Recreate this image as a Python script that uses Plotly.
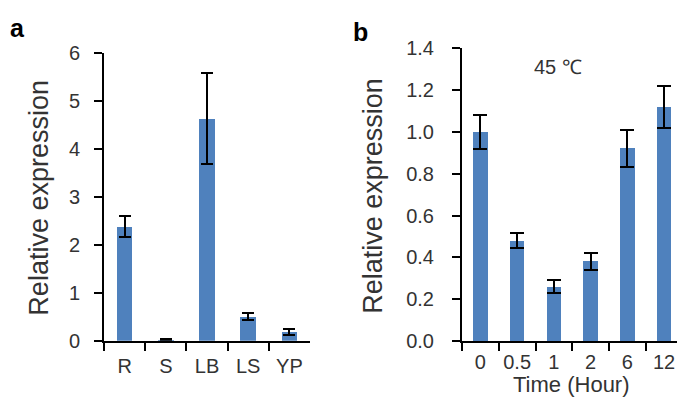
import plotly.graph_objects as go

# Panel a data
tissues = ["R", "S", "LB", "LS", "YP"]
tissue_expr = [2.38, 0.02, 4.63, 0.50, 0.19]
tissue_err = [0.22, 0.01, 0.94, 0.07, 0.06]

# Panel b data
time_labels = ["0", "0.5", "1", "2", "6", "12"]
time_expr = [1.00, 0.48, 0.26, 0.38, 0.92, 1.12]
time_err = [0.08, 0.035, 0.03, 0.04, 0.09, 0.10]

a_ticks = [0, 1, 2, 3, 4, 5, 6]
b_ticks = [0.0, 0.2, 0.4, 0.6, 0.8, 1.0, 1.2, 1.4]

BAR = "#4F81BD"
FONT = "Liberation Sans, Arial, sans-serif"
TXT = "#333333"

# The page body has an 8px margin, so the figure sits at (8, 8) in the window.
OFF = 8
W, H = 685 - OFF, 409 - OFF

def px_x(x):
    return (x - OFF) / W

def px_y(y):
    return 1 - (y - OFF) / H

fig = go.Figure()

fig.add_trace(go.Bar(
    x=tissues, y=tissue_expr, width=0.38,
    marker=dict(color=BAR, line=dict(width=0)),
    error_y=dict(type="data", array=tissue_err, visible=True,
                 color="black", thickness=2, width=6),
    xaxis="x", yaxis="y", showlegend=False,
))

fig.add_trace(go.Bar(
    x=time_labels, y=time_expr, width=0.40,
    marker=dict(color=BAR, line=dict(width=0)),
    error_y=dict(type="data", array=time_err, visible=True,
                 color="black", thickness=2, width=7),
    xaxis="x2", yaxis="y2", showlegend=False,
))

axis_common = dict(
    showline=True, linecolor="black", linewidth=2,
    ticks="outside", ticklen=8, tickwidth=2, tickcolor="black",
    showgrid=False, zeroline=False,
    tickfont=dict(family=FONT, size=20, color=TXT),
)

fig.update_layout(
    width=W, height=H,
    margin=dict(l=0, r=0, t=0, b=0),
    plot_bgcolor="white", paper_bgcolor="white",
    bargap=0,
    xaxis=dict(domain=[px_x(104), px_x(310)], anchor="y",
               type="category", tickson="boundaries", tickangle=0,
               ticklabelstandoff=6, **axis_common),
    yaxis=dict(domain=[px_y(348.5), px_y(43.5)], anchor="x",
               range=[0, 6], tickvals=a_ticks, ticklabelstandoff=10,
               **axis_common),
    xaxis2=dict(domain=[px_x(462), px_x(682.5)], anchor="y2",
                type="category", tickson="boundaries", tickangle=0,
                ticklabelstandoff=2, **axis_common),
    yaxis2=dict(domain=[px_y(348.8), px_y(38.8)], anchor="x2",
                range=[0, 1.4], tickvals=b_ticks, tickformat=".1f",
                ticklabelstandoff=14, **axis_common),
    annotations=[
        dict(text="<b>a</b>", x=px_x(8), y=px_y(1), xref="paper", yref="paper",
             xanchor="left", yanchor="top", showarrow=False,
             font=dict(family=FONT, size=25, color="black")),
        dict(text="<b>b</b>", x=px_x(351), y=px_y(5), xref="paper", yref="paper",
             xanchor="left", yanchor="top", showarrow=False,
             font=dict(family=FONT, size=25, color="black")),
        dict(text="Relative expression", x=px_x(39), y=px_y(197), xref="paper", yref="paper",
             textangle=-90, showarrow=False, xanchor="center", yanchor="middle",
             font=dict(family=FONT, size=27, color=TXT)),
        dict(text="Relative expression", x=px_x(373), y=px_y(195), xref="paper", yref="paper",
             textangle=-90, showarrow=False, xanchor="center", yanchor="middle",
             font=dict(family=FONT, size=27, color=TXT)),
        dict(text="Time (Hour)", x=px_x(571), y=px_y(394.5), xref="paper", yref="paper",
             showarrow=False, xanchor="center", yanchor="middle",
             font=dict(family=FONT, size=22, color=TXT)),
        dict(text="45 ℃", x=px_x(558), y=px_y(59), xref="paper", yref="paper",
             showarrow=False, xanchor="center", yanchor="middle",
             font=dict(family=FONT, size=20, color=TXT)),
    ],
)

fig.write_html("out.html")
